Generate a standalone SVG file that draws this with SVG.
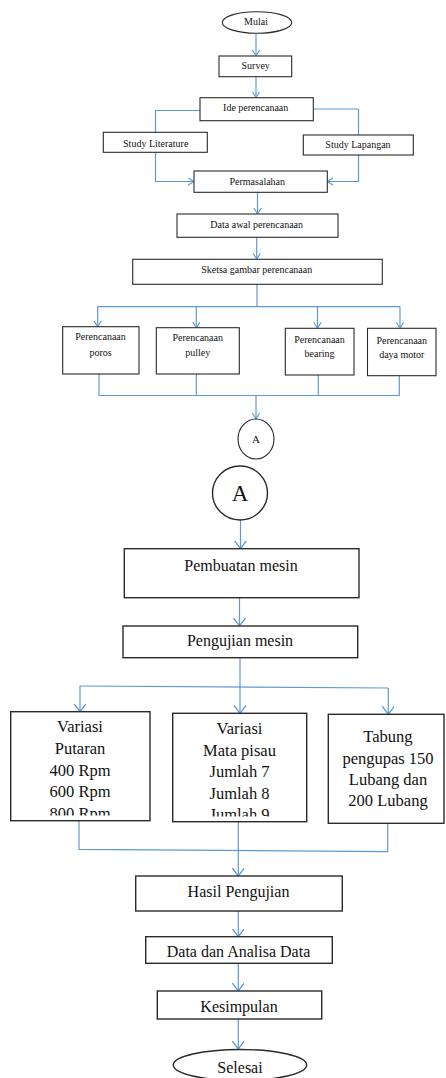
<svg xmlns="http://www.w3.org/2000/svg" width="446" height="1078" viewBox="0 0 446 1078">
<style>
.b{fill:#fff;stroke:#2a2a2a;stroke-width:1.1}
.B{fill:#fff;stroke:#2a2a2a;stroke-width:1.4}
.c{fill:none;stroke:#5b9bd5;stroke-width:1.2}
.s{font-family:"Liberation Serif","Times New Roman",serif;font-size:10px;fill:#111;text-anchor:middle}
.m{font-family:"Liberation Serif","Times New Roman",serif;font-size:16px;fill:#111;text-anchor:middle}
.l{font-family:"Liberation Serif","Times New Roman",serif;font-size:16.5px;fill:#111;text-anchor:middle}
</style>
<defs>
<marker id="as" markerWidth="8" markerHeight="9" refX="6" refY="4" orient="auto" markerUnits="userSpaceOnUse"><path d="M0,0.3 L6,4 L0,7.7" fill="none" stroke="#5b9bd5" stroke-width="1.1"/></marker>
<marker id="al" markerWidth="10" markerHeight="14" refX="8" refY="6" orient="auto" markerUnits="userSpaceOnUse"><path d="M0,0 L8,6 L0,12" fill="none" stroke="#5b9bd5" stroke-width="1.3"/></marker>
<clipPath id="k1"><rect x="10" y="711" width="141" height="104.5"/></clipPath>
<clipPath id="k2"><rect x="172" y="713" width="135" height="103.5"/></clipPath>
</defs>
<rect width="446" height="1078" fill="#fff"/>
<g id="connectors">
<path class="c" d="M256,33.5 V56" marker-end="url(#as)"/>
<path class="c" d="M256,77 V97.5" marker-end="url(#as)"/>
<path class="c" d="M200,110.5 H155.5 V132.3"/>
<path class="c" d="M313.3,109 H358.5 V135"/>
<path class="c" d="M155.5,152.3 V181.5 H194" marker-end="url(#as)"/>
<path class="c" d="M358.5,155 V181.5 H327.3" marker-end="url(#as)"/>
<path class="c" d="M257.5,192.3 V214" marker-end="url(#as)"/>
<path class="c" d="M256.7,237.3 V259.3" marker-end="url(#as)"/>
<path class="c" d="M257,284.3 V306.7 M97.7,306.7 H400"/>
<path class="c" d="M97.7,306.7 V326.7" marker-end="url(#as)"/>
<path class="c" d="M196.3,306.7 V327.7" marker-end="url(#as)"/>
<path class="c" d="M317.5,306.7 V328.3" marker-end="url(#as)"/>
<path class="c" d="M400,306.7 V328.3" marker-end="url(#as)"/>
<path class="c" d="M99,374 V395.5 H399.3 V375.7 M196.3,374 V395.5 M318.3,375 V395.5"/>
<path class="c" d="M256,395.5 V419" marker-end="url(#as)"/>
<path class="c" d="M240.5,520 V548.7" marker-end="url(#al)"/>
<path class="c" d="M239.5,597.7 V626" marker-end="url(#al)"/>
<path class="c" d="M240,657.7 V687 M80,686 L388.3,688"/>
<path class="c" d="M80,686 V711.7" marker-end="url(#al)"/>
<path class="c" d="M240,687 V713.3" marker-end="url(#al)"/>
<path class="c" d="M388.3,688 V714.3" marker-end="url(#al)"/>
<path class="c" d="M79,820.7 V849.3 L387.7,851.7 V823.3 M238.3,821.7 V850.5"/>
<path class="c" d="M238.3,850.5 V876" marker-end="url(#al)"/>
<path class="c" d="M238.3,911 V936.7" marker-end="url(#al)"/>
<path class="c" d="M238.3,963.3 V991" marker-end="url(#al)"/>
<path class="c" d="M238.3,1019 V1049" marker-end="url(#al)"/>
</g>
<g id="mulai"><ellipse class="b" cx="257" cy="22.5" rx="34.7" ry="10.8"/><text class="s" x="256" y="25.2">Mulai</text></g>
<g id="survey"><rect class="b" x="219" y="56" width="72.7" height="20.7"/><text class="s" x="255.7" y="69">Survey</text></g>
<g id="ide"><rect class="b" x="200" y="97.7" width="113.3" height="23"/><text class="s" x="255.7" y="110.8">Ide perencanaan</text></g>
<g id="literature"><rect class="b" x="103.3" y="132.3" width="104" height="20"/><text class="s" x="155.7" y="146.5">Study Literature</text></g>
<g id="lapangan"><rect class="b" x="303.3" y="135" width="110" height="20"/><text class="s" x="358" y="147.5">Study Lapangan</text></g>
<g id="permasalahan"><rect class="b" x="194" y="171" width="133.3" height="21.3"/><text class="s" x="257.3" y="184.5">Permasalahan</text></g>
<g id="data-awal"><rect class="b" x="177" y="214" width="161" height="23.3"/><text class="s" x="256.7" y="227.5">Data awal perencanaan</text></g>
<g id="sketsa"><rect class="b" x="132.7" y="259.3" width="249.6" height="25"/><text class="s" x="256.7" y="272.8">Sketsa gambar perencanaan</text></g>
<g id="poros"><rect class="b" x="62.7" y="326.7" width="76.3" height="47.3"/><text class="s" x="100.5" y="340.2">Perencanaan</text><text class="s" x="100.5" y="355.5">poros</text></g>
<g id="pulley"><rect class="b" x="156.3" y="327.7" width="83" height="46.3"/><text class="s" x="197.7" y="341">Perencanaan</text><text class="s" x="197.7" y="356">pulley</text></g>
<g id="bearing"><rect class="b" x="285.3" y="328.3" width="68.7" height="46.7"/><text class="s" x="319.5" y="342.5">Perencanaan</text><text class="s" x="319.5" y="357">bearing</text></g>
<g id="daya-motor"><rect class="b" x="367.5" y="328.3" width="68.5" height="47.4"/><text class="s" x="401.8" y="343.5">Perencanaan</text><text class="s" x="401.8" y="357.5">daya motor</text></g>
<g id="a-small"><ellipse class="b" cx="256" cy="439" rx="18" ry="20"/><text class="s" x="256" y="443" style="font-size:11px">A</text></g>
<g id="a-big"><ellipse class="B" cx="240" cy="493" rx="27.5" ry="27"/><text class="m" x="240" y="501" style="font-size:23px">A</text></g>
<g id="pembuatan"><rect class="B" x="124.3" y="548.7" width="234.7" height="49"/><text class="m" x="241" y="570.5">Pembuatan mesin</text></g>
<g id="pengujian"><rect class="B" x="123" y="626" width="234.7" height="31.7"/><text class="m" x="240" y="646">Pengujian mesin</text></g>
<g id="variasi-putaran"><rect class="B" x="10.7" y="711.7" width="139.3" height="109"/><g clip-path="url(#k1)"><text class="l" x="80" y="732.3">Variasi</text><text class="l" x="80" y="754">Putaran</text><text class="l" x="80" y="775.5">400 Rpm</text><text class="l" x="80" y="797">600 Rpm</text><text class="l" x="80" y="818.5">800 Rpm</text></g></g>
<g id="variasi-pisau"><rect class="B" x="172.7" y="713.3" width="134" height="108.4"/><g clip-path="url(#k2)"><text class="l" x="239.5" y="734">Variasi</text><text class="l" x="239.5" y="755.5">Mata pisau</text><text class="l" x="239.5" y="777">Jumlah 7</text><text class="l" x="239.5" y="798.5">Jumlah 8</text><text class="l" x="239.5" y="820">Jumlah 9</text></g></g>
<g id="tabung"><rect class="B" x="328.3" y="714.3" width="115.7" height="109"/><text class="l" x="388" y="742">Tabung</text><text class="l" x="388" y="763.5">pengupas 150</text><text class="l" x="388" y="785">Lubang dan</text><text class="l" x="388" y="806">200 Lubang</text></g>
<g id="hasil"><rect class="B" x="135.7" y="876" width="206.6" height="35"/><text class="m" x="238.5" y="896.5">Hasil Pengujian</text></g>
<g id="analisa"><rect class="B" x="145.7" y="936.7" width="186.6" height="26.6"/><text class="m" x="238.5" y="957">Data dan Analisa Data</text></g>
<g id="kesimpulan"><rect class="B" x="157.3" y="991" width="164.4" height="28"/><text class="m" x="239" y="1011.5">Kesimpulan</text></g>
<g id="selesai"><ellipse class="B" cx="240" cy="1065" rx="66.7" ry="15.5"/><text class="m" x="240" y="1072.5">Selesai</text></g>
</svg>
